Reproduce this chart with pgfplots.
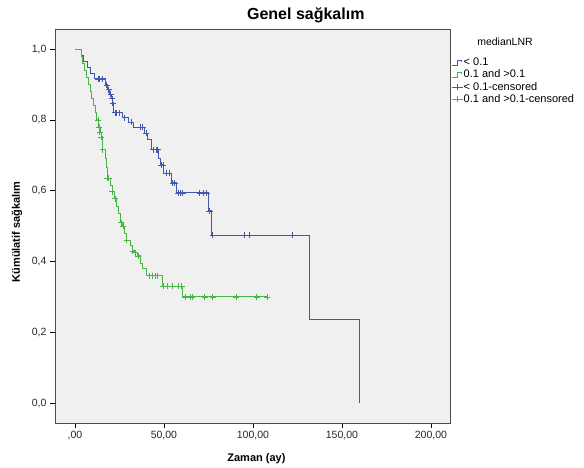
\documentclass[border=0pt]{standalone}
\usepackage{fontspec}
\setmainfont{Liberation Sans}
\usepackage{pgfplots}
\pgfplotsset{compat=1.18}
\definecolor{kmblue}{RGB}{66,88,172}
\definecolor{kmgreen}{RGB}{70,180,70}
\definecolor{plotbg}{RGB}{240,240,240}

% Kaplan-Meier steps: time (months), survival after event
\pgfplotstableread{
t S
0 1.0
3.5 0.983
5 0.966
7 0.949
9 0.932
11 0.916
17 0.899
18.5 0.885
19.5 0.872
20.5 0.860
21 0.848
21.8 0.820
27 0.806
30 0.793
33 0.780
39 0.763
41 0.745
43 0.716
47 0.690
48 0.673
50 0.650
54 0.622
57 0.594
75 0.543
76.5 0.475
132 0.237
160 0.0
}\lowtab
\pgfplotstableread{
t S
0 1.0
3.5 0.98
4.5 0.96
5.5 0.94
6.5 0.92
7.5 0.90
8.5 0.88
9.5 0.86
10.5 0.84
11.3 0.82
12 0.80
13.3 0.78
14.2 0.766
14.8 0.752
15.5 0.716
17 0.69
18 0.665
18.5 0.636
20 0.615
21 0.597
22.5 0.578
23.5 0.555
24.5 0.535
25.5 0.510
26.8 0.500
28 0.480
29 0.460
31 0.445
32.5 0.430
33.5 0.425
35.3 0.416
37 0.395
38 0.380
40 0.360
49 0.330
60.7 0.300
108 0.300
}\hightab
\pgfplotstableread{
t S
13 0.916
14 0.916
15.5 0.916
17.8 0.899
19 0.885
20 0.872
21 0.860
21.3 0.848
22.5 0.820
23.5 0.820
25 0.820
28 0.806
31.5 0.793
36.5 0.780
38 0.780
40 0.763
44 0.716
45.5 0.716
46.5 0.716
48.5 0.673
49.5 0.673
51.5 0.650
53 0.650
55 0.622
56 0.622
58 0.594
59.5 0.594
60.5 0.594
70 0.594
72 0.594
74 0.594
75.3 0.543
75.8 0.543
77.5 0.475
95 0.475
98 0.475
122 0.475
}\lowcens
\pgfplotstableread{
t S
13 0.800
13.6 0.780
14 0.766
14.6 0.752
15.7 0.716
18 0.636
19 0.636
21 0.597
22.5 0.578
26 0.510
27 0.500
29 0.460
32.5 0.430
33.7 0.425
35.4 0.416
42 0.360
43.5 0.360
45 0.360
46.5 0.360
49.5 0.330
52 0.330
55 0.330
58 0.330
60 0.330
62 0.300
64.6 0.300
66 0.300
73 0.300
77.5 0.300
90.5 0.300
102 0.300
108 0.300
}\highcens

\begin{document}
\begin{tikzpicture}
\useasboundingbox (-55pt,-44pt) rectangle (529pt,423pt);
\begin{axis}[
  at={(0pt,0pt)}, anchor=south west,
  scale only axis, width=395pt, height=394pt,
  xmin=-11.2, xmax=210.7, ymin=-0.056, ymax=1.057,
  axis background/.style={fill=plotbg},
  axis line style={draw=black!70, line width=0.8pt},
  xtick={0,50,100,150,200},
  xticklabels={{,00},{50,00},{100,00},{150,00},{200,00}},
  ytick={0,0.2,0.4,0.6,0.8,1.0},
  yticklabels={{0,0},{0,2},{0,4},{0,6},{0,8},{1,0}},
  tick align=outside, major tick length=5pt,
  xtick pos=bottom, ytick pos=left,
  tick style={black, line width=0.6pt},
  ticklabel style={font=\fontsize{10.5}{12}\selectfont, text=black!85},
  every axis title shift=0pt,
  title={Genel sağkalım},
  title style={font=\bfseries\fontsize{16}{18}\selectfont, at={(axis description cs:0.635,1.035)}, anchor=center},
  xlabel={Zaman (ay)},
  ylabel={Kümülatif sağkalım},
  xlabel style={font=\bfseries\fontsize{11}{13}\selectfont, at={(axis description cs:0.51,-0.09)}, anchor=center},
  ylabel style={font=\bfseries\fontsize{11}{13}\selectfont, at={(axis description cs:-0.096,0.485)}, anchor=center, rotate=0},
  legend style={at={(axis description cs:1.003,0.929)}, anchor=north west, draw=none, fill=none,
    font=\fontsize{11}{12}\selectfont, row sep=1.2pt, inner sep=0pt,
    nodes={inner sep=0.5pt, text height=8pt, text depth=2pt}},
  legend cell align=left,
]
\addplot[const plot, kmblue, line width=1pt,
  legend image code/.code={\draw[kmblue,line width=0.8pt] (0pt,-2.5pt) -- (6pt,-2.5pt) -- (6pt,2.5pt) -- (10pt,2.5pt) -- (10pt,1pt);}]
  table[x=t, y=S] {\lowtab};
\addlegendentry{< 0.1}
\addplot[const plot, kmgreen, line width=1pt,
  legend image code/.code={\draw[kmgreen,line width=0.8pt] (0pt,-2.5pt) -- (6pt,-2.5pt) -- (6pt,2.5pt) -- (10pt,2.5pt) -- (10pt,1pt);}]
  table[x=t, y=S] {\hightab};
\addlegendentry{0.1 and >0.1}
\addplot[only marks, mark=+, mark size=3pt, kmblue, line width=0.8pt,
  legend image code/.code={\draw[kmblue,line width=0.8pt] (0pt,0pt) -- (11pt,0pt) (5.5pt,-3pt) -- (5.5pt,3pt);}]
  table[x=t, y=S] {\lowcens};
\addlegendentry{< 0.1-censored}
\addplot[only marks, mark=+, mark size=3pt, kmgreen, line width=0.8pt,
  legend image code/.code={\draw[kmgreen,line width=0.8pt] (0pt,0pt) -- (11pt,0pt) (5.5pt,-3pt) -- (5.5pt,3pt);}]
  table[x=t, y=S] {\highcens};
\addlegendentry{0.1 and >0.1-censored}
\end{axis}
\node[font=\fontsize{10.5}{12}\selectfont] at (450pt,381pt) {medianLNR};
\end{tikzpicture}
\end{document}
